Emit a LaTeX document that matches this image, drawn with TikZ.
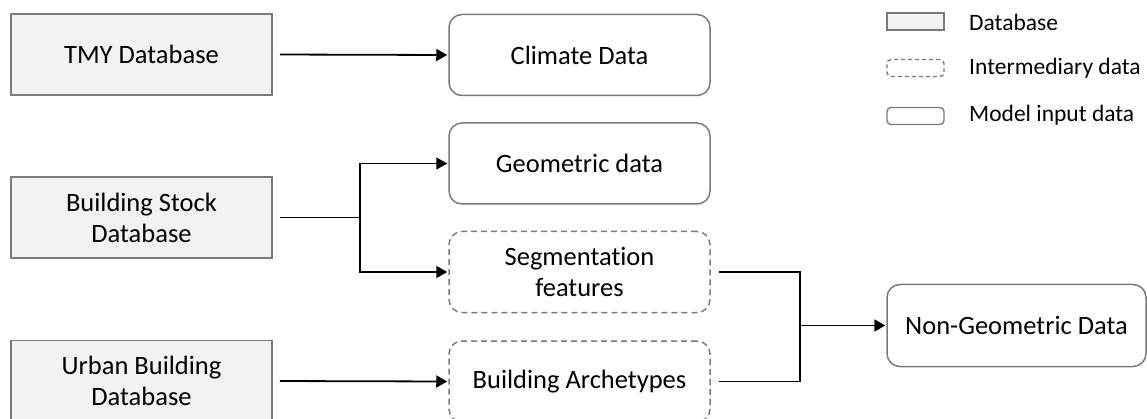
\documentclass[tikz,border=0pt]{standalone}
\usepackage{fontspec}
\setmainfont{Carlito}[Ligatures={NoCommon,TeX}]
\usetikzlibrary{arrows.meta}
\definecolor{dbfill}{HTML}{F2F2F2}
\definecolor{edgegray}{HTML}{7A7A7A}
\tikzset{
  base/.style={minimum width=261pt, minimum height=81pt, inner sep=0pt,
    align=center, font=\fontsize{26.5}{31}\selectfont, line width=1.5pt},
  dbbox/.style={base, draw=edgegray, fill=dbfill},
  inputbox/.style={base, draw=edgegray, rounded corners=13pt},
  midbox/.style={base, draw=edgegray, rounded corners=13pt,
    dash pattern=on 6pt off 4pt},
  link/.style={line width=1.8pt, black},
  arrowlink/.style={link, -{Triangle[length=11pt,width=12pt]}},
  legtext/.style={anchor=west, inner sep=0pt, font=\fontsize{23.5}{27}\selectfont},
  legbox/.style={line width=1.4pt, draw=edgegray, minimum width=57pt,
    minimum height=17pt, inner sep=0pt},
}
\begin{document}
\begin{tikzpicture}[x=1pt, y=-1pt]
\useasboundingbox (0,0) rectangle (1147,419);

% sources
\node[dbbox] (tmy) at (141.5,54.5) {TMY Database};
\node[dbbox] (bsd) at (141.5,217.5) {Building Stock\\Database};
\node[dbbox] (ubd) at (141.5,381) {Urban Building\\Database};

% derived data
\node[inputbox] (clim) at (579.5,55) {Climate Data};
\node[inputbox] (geo) at (579.5,163.5) {Geometric data};
\node[midbox] (seg) at (579.5,272) {Segmentation\\features};
\node[midbox] (arch) at (579.5,381.5) {Building Archetypes};
\node[inputbox, minimum width=259pt, minimum height=82pt] (ngd) at (1016.5,325.5) {Non-Geometric Data};

% junction points
\coordinate (j1) at (360,217.5);
\coordinate (j2) at (800,325.5);

% connectors
\draw[arrowlink, shorten <=7pt, shorten >=1pt] (tmy.east) -- (clim.west);
\draw[link, shorten <=7pt] (bsd.east) -- (j1);
\draw[arrowlink, shorten >=1pt] (j1) |- (geo.west);
\draw[arrowlink, shorten >=1pt] (j1) |- (seg.west);
\draw[arrowlink, shorten <=7pt, shorten >=1pt] (ubd.east) -- (arch.west);
\draw[link, shorten <=8pt] (seg.east) -| (j2);
\draw[link, shorten <=8pt] (arch.east) -| (j2);
\draw[arrowlink, shorten >=1pt] (j2) -- (ngd.west);

% legend
\node[legbox, fill=dbfill] (lg1) at (915.5,21.5) {};
\node[legbox, rounded corners=4pt, dash pattern=on 4pt off 3pt] (lg2) at (915.5,68) {};
\node[legbox, rounded corners=4pt] (lg3) at (915.5,116) {};
\node[legtext] (lt1) at (969,22) {Database};
\node[legtext] (lt2) at (969,68) {Intermediary data};
\node[legtext] (lt3) at (969,115) {Model input data};
\end{tikzpicture}
\end{document}
